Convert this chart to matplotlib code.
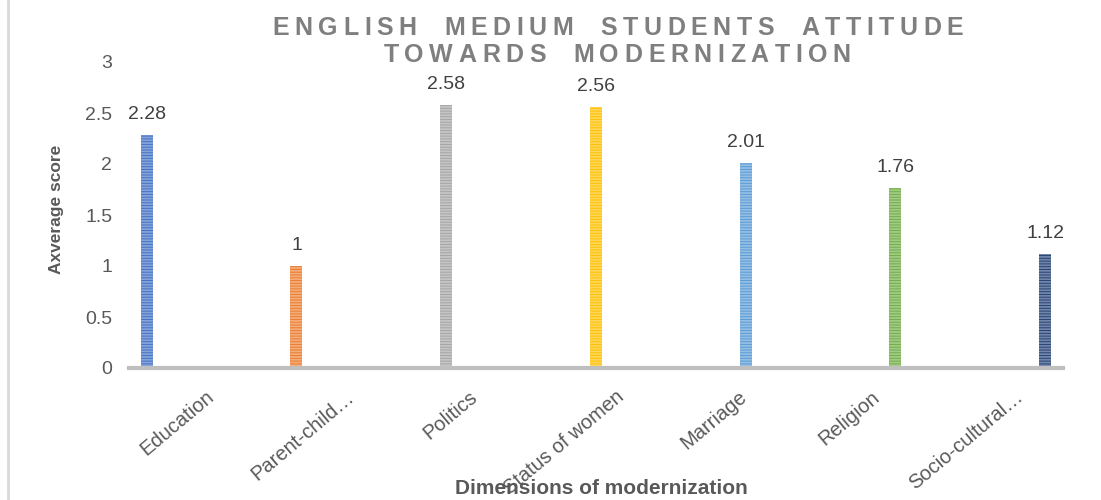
import matplotlib
matplotlib.use("Agg")
import matplotlib.pyplot as plt
from matplotlib.lines import Line2D
from matplotlib.colors import to_rgb
from matplotlib.transforms import offset_copy

plt.rcParams['font.family'] = ['Liberation Sans', 'DejaVu Sans']

# Scores per dimension
categories = ["Education", "Parent-child…", "Politics", "Status of women",
              "Marriage", "Religion", "Socio-cultural…"]
scores = [2.28, 1, 2.58, 2.56, 2.01, 1.76, 1.12]
value_labels = ["2.28", "1", "2.58", "2.56", "2.01", "1.76", "1.12"]
colors = ["#4472C4", "#ED7D31", "#A5A5A5", "#FFC000", "#5B9BD5", "#70AD47", "#264478"]
yticks = [0, 0.5, 1, 1.5, 2, 2.5, 3]
ytick_labels = ["0", "0.5", "1", "1.5", "2", "2.5", "3"]

TEXT = "#595959"

fig = plt.figure(figsize=(11.01, 5.0), dpi=100)
ax = fig.add_axes([0.117, 0.264, 0.8485, 0.612])

plt.rcParams['hatch.linewidth'] = 1.3


def lighten(c, amt):
    r, g, b = to_rgb(c)
    return (r + (1 - r) * amt, g + (1 - g) * amt, b + (1 - b) * amt)


# each dimension is its own series, so the bars sit at a shifted slot inside the group
step = 0.122
width = 0.09
for i, (v, c) in enumerate(zip(scores, colors)):
    x = i + (i - 3) * step
    ax.bar(x, v, width=width, color=c, edgecolor=lighten(c, 0.35),
           hatch='-' * 6, linewidth=0)
    ax.text(x, v + 0.12, value_labels[i], ha='center', va='bottom',
            fontsize=14, color="#404040")

ax.set_xlim(-0.5, 6.5)
ax.set_ylim(0, 3)
ax.set_yticks(yticks)
ax.set_yticklabels(ytick_labels, fontsize=14, color=TEXT)
ax.set_xticks(range(len(categories)))
ax.set_xticklabels(categories, fontsize=14.5, color=TEXT, rotation=40,
                   ha='right', va='center', rotation_mode='anchor')
ax.tick_params(axis='both', length=0)
ax.tick_params(axis='x', pad=17)
ax.tick_params(axis='y', pad=12)

# longer category names are nudged further right
r = fig.canvas.get_renderer()
for lbl in ax.get_xticklabels():
    t = fig.text(0, 0, lbl.get_text(), fontsize=14.5)
    L = t.get_window_extent(r).width
    t.remove()
    lbl.set_transform(offset_copy(lbl.get_transform(), fig=fig,
                                  x=0.15 * L + 3, y=-3, units='dots'))

for s in ['top', 'right', 'left']:
    ax.spines[s].set_visible(False)
ax.spines['bottom'].set_color("#BFBFBF")
ax.spines['bottom'].set_linewidth(3)

ax.set_ylabel("Axverage score", fontsize=12.5, fontweight='bold', color=TEXT)
ax.yaxis.set_label_coords(-0.069, 0.52)
fig.text(0.546, 0.024, "Dimensions of modernization", ha='center', va='center',
         fontsize=15, fontweight='bold', color=TEXT)


# title with wide letter spacing, laid out one character at a time
def tracked_text(s, xc, yc, size, track, space):
    widths = []
    for ch in s:
        if ch == ' ':
            widths.append(space)
            continue
        t = fig.text(0, 0, ch, fontsize=size, fontweight='bold')
        widths.append(t.get_window_extent(r).width)
        t.remove()
    total = sum(widths) + track * (len(s) - 1)
    W = fig.bbox.width
    x = xc * W - total / 2
    for ch, w in zip(s, widths):
        if ch != ' ':
            fig.text(x / W, yc, ch, fontsize=size, fontweight='bold',
                     color="#7F7F7F", ha='left', va='baseline')
        x += w + track


tracked_text("ENGLISH MEDIUM STUDENTS ATTITUDE", 0.5613, 1 - 35 / 500, 18, 5.6, 16)
tracked_text("TOWARDS MODERNIZATION", 0.5604, 1 - 62 / 500, 18, 5.6, 16)

# chart frame edge on the left
fig.add_artist(Line2D([0.0075, 0.0075], [0, 1], color="#D9D9D9", linewidth=2,
                      transform=fig.transFigure))

fig.savefig("out.png", dpi=100)
